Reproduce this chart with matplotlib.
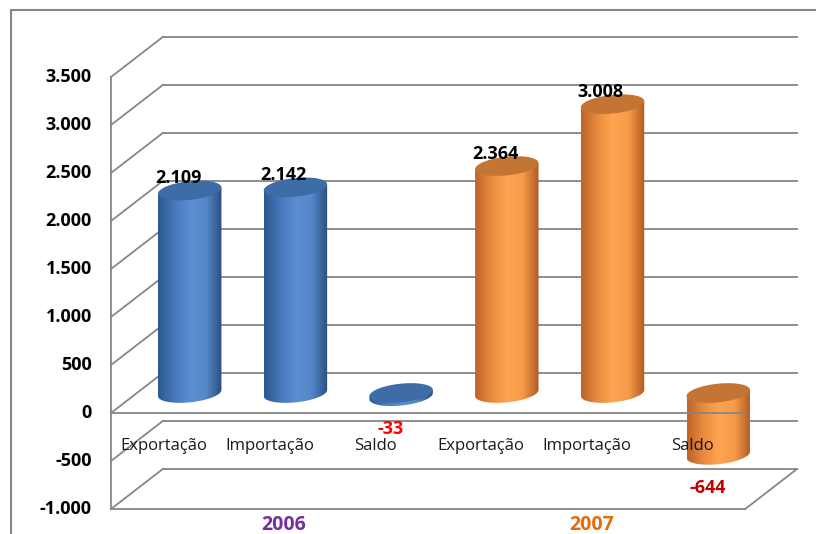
import numpy as np
import matplotlib.pyplot as plt
from matplotlib.patches import PathPatch, Rectangle, Polygon
from matplotlib.path import Path
from matplotlib.colors import LinearSegmentedColormap

plt.rcParams['font.family'] = ['Open Sans', 'DejaVu Sans']

# dados (US$ milhoes)
categorias = ['Exportação', 'Importação', 'Saldo', 'Exportação', 'Importação', 'Saldo']
anos = ['2006', '2007']
valores = [2109, 2142, -33, 2364, 3008, -644]
cor_rotulo = ['black', 'black', '#FF0000', 'black', 'black', '#C00000']
ticks = [-1000, -500, 0, 500, 1000, 1500, 2000, 2500, 3000, 3500]

def fmt(v):
    return f'{v:,}'.replace(',', '.')

# paletas dos cilindros (borda escura -> brilho -> borda escura)
azul = LinearSegmentedColormap.from_list('azul', ['#2C5890', '#4677BA', '#5B8FD2', '#5587C8', '#2A4F80'])
laranja = LinearSegmentedColormap.from_list('laranja', ['#BE6329', '#E88A3E', '#FFA552', '#F59A48', '#B05A24'])
cmaps = [azul, azul, azul, laranja, laranja, laranja]
topo = ['#3E6CA6', '#3E6CA6', '#3E6CA6', '#C47433', '#C47433', '#C47433']
ano_cor = ['#7030A0', '#E36C09']

fig = plt.figure(figsize=(8.16, 5.34), dpi=100)
ax = fig.add_axes([0, 0, 1, 1])
ax.set_xlim(-1.050, 6.670)
ax.set_ylim(-1260, 4302)
ax.axis('off')

# moldura externa
fig.patches.append(Rectangle((11 / 816, -0.05), 1.2, 1.05 - 10 / 534, transform=fig.transFigure,
                             fill=False, edgecolor='#868686', lw=1.5))

DX, DY = 0.49, 417          # profundidade da caixa 3D
n = len(categorias)
grid = '#868686'
lw = 1.3
ymin, ymax = ticks[0], ticks[-1]

# parede do fundo e parede lateral
for t in ticks:
    ax.plot([DX, n + DX], [t + DY, t + DY], color=grid, lw=lw, zorder=1)
    ax.plot([0, DX], [t, t + DY], color=grid, lw=lw, zorder=1)
    ax.text(-0.18, t, fmt(t), ha='right', va='center', fontsize=13, fontweight='bold')
ax.plot([0, 0], [ymin, ymax], color=grid, lw=lw, zorder=1)
# piso em -1000
ax.plot([0, n], [ymin, ymin], color=grid, lw=lw, zorder=1)
ax.plot([n, n + DX], [ymin, ymin + DY], color=grid, lw=lw, zorder=1)

w = 0.60
eh = 195      # altura da elipse (unidades do eixo y)
s = 32        # inclinacao da elipse: direita mais alta
th = np.linspace(0, 2 * np.pi, 80)
th_inf = np.linspace(np.pi, 2 * np.pi, 40)
for i, v in enumerate(valores):
    cx = i + 0.5 + DX / 2
    top = max(v, 0) + DY / 2
    bot = min(v, 0) + DY / 2
    # corpo: laterais + meia elipse inferior inclinada
    xa = cx + w / 2 * np.cos(th_inf)
    ya = bot + eh / 2 * np.sin(th_inf) + s * np.cos(th_inf)
    xs = np.concatenate([[cx - w / 2], xa, [cx + w / 2]])
    ys = np.concatenate([[top - s], ya, [top + s]])
    corpo = PathPatch(Path(np.column_stack([xs, ys])), facecolor='none', edgecolor='none',
                      transform=ax.transData, zorder=3)
    ax.add_patch(corpo)
    grad = cmaps[i](np.linspace(0, 1, 200))[None, :, :3]
    im = ax.imshow(grad, extent=[cx - w / 2, cx + w / 2, bot - eh / 2 - s, top + s], aspect='auto',
                   zorder=3, interpolation='bilinear')
    im.set_clip_path(corpo)
    # tampa
    xt = cx + w / 2 * np.cos(th)
    yt = top + eh / 2 * np.sin(th) + s * np.cos(th)
    ax.add_patch(Polygon(np.column_stack([xt, yt]), closed=True, facecolor=topo[i],
                         edgecolor='none', zorder=4))

    if v >= 0:
        ax.text(cx - 0.11, top + 130, fmt(v), ha='center', va='center',
                fontsize=13, fontweight='bold', color=cor_rotulo[i], zorder=6)
    else:
        ax.text(cx - 0.10, bot - 345, fmt(v), ha='center', va='center',
                fontsize=13, fontweight='bold', color=cor_rotulo[i], zorder=6)

    ax.text(i + 0.5, -344, categorias[i], ha='center', va='center', fontsize=12, color='#1A1A1A', zorder=6)

# linha do zero na frente
ax.plot([0, n], [0, 0], color=grid, lw=lw, zorder=5)

for k, ano in enumerate(anos):
    ax.text(1.63 + 2.92 * k, -1167, ano, ha='center', va='center', fontsize=14,
            fontweight='bold', color=ano_cor[k])

fig.savefig('out.png', dpi=100)
